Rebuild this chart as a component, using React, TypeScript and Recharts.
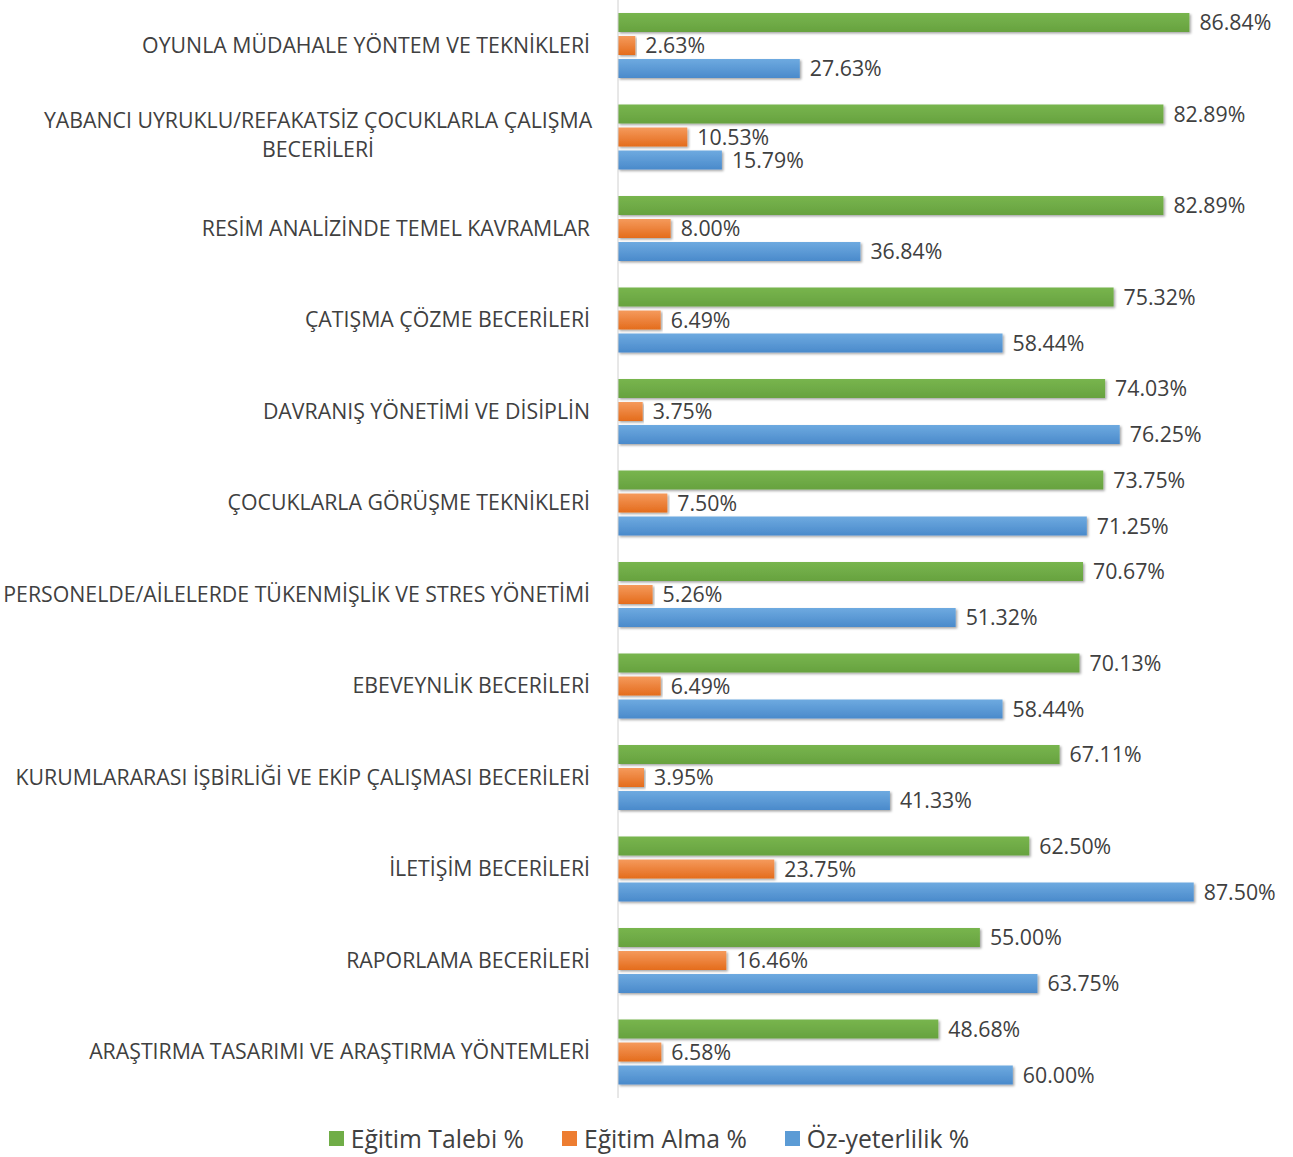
import React from "react";
import {BarChart, Bar, XAxis, YAxis, Legend, LabelList} from "recharts";

const categories = [
  "OYUNLA MÜDAHALE YÖNTEM VE TEKNİKLERİ",
  "YABANCI UYRUKLU/REFAKATSİZ ÇOCUKLARLA ÇALIŞMA|BECERİLERİ",
  "RESİM ANALİZİNDE TEMEL KAVRAMLAR",
  "ÇATIŞMA ÇÖZME BECERİLERİ",
  "DAVRANIŞ YÖNETİMİ VE DİSİPLİN",
  "ÇOCUKLARLA GÖRÜŞME TEKNİKLERİ",
  "PERSONELDE/AİLELERDE TÜKENMİŞLİK VE STRES YÖNETİMİ",
  "EBEVEYNLİK BECERİLERİ",
  "KURUMLARARASI İŞBİRLİĞİ VE EKİP ÇALIŞMASI BECERİLERİ",
  "İLETİŞİM BECERİLERİ",
  "RAPORLAMA BECERİLERİ",
  "ARAŞTIRMA TASARIMI VE ARAŞTIRMA YÖNTEMLERİ",
];

const egitimTalebi = [86.84, 82.89, 82.89, 75.32, 74.03, 73.75, 70.67, 70.13, 67.11, 62.5, 55.0, 48.68];
const egitimAlma = [2.63, 10.53, 8.0, 6.49, 3.75, 7.5, 5.26, 6.49, 3.95, 23.75, 16.46, 6.58];
const ozYeterlilik = [27.63, 15.79, 36.84, 58.44, 76.25, 71.25, 51.32, 58.44, 41.33, 87.5, 63.75, 60.0];

const seriesNames = ["Eğitim Talebi %", "Eğitim Alma %", "Öz-yeterlilik %"];

const data = categories.map((name, i) => ({
  name,
  talep: egitimTalebi[i],
  alma: egitimAlma[i],
  oz: ozYeterlilik[i],
}));

const FONT = "'Open Sans', sans-serif";
const TEXT = "#404040";
const FS = 21.3;

const CategoryTick = (props: any) => {
  const {x, y, payload} = props;
  const lines = String(payload.value).split("|");
  if (lines.length === 1) {
    return (
      <text x={x} y={y} dy={7} textAnchor="end" fill={TEXT} fontSize={FS} fontFamily={FONT}>
        {lines[0]}
      </text>
    );
  }
  // two line label, lines centred under each other
  const cx = x - 272;
  return (
    <text x={cx} y={y} textAnchor="middle" fill={TEXT} fontSize={FS} fontFamily={FONT}>
      {lines.map((l, i) => (
        <tspan key={i} x={cx} dy={i === 0 ? -9 : 29}>
          {l}
        </tspan>
      ))}
    </text>
  );
};

const legendColors = ["#70ad47", "#ed7d31", "#5b9bd5"];

const LegendContent = () => (
  <div
    style={{
      display: "flex",
      justifyContent: "center",
      alignItems: "center",
      gap: 38,
      fontFamily: FONT,
      fontSize: 24.7,
      color: TEXT,
      paddingTop: 24,
      paddingLeft: 22,
    }}
  >
    {seriesNames.map((n, i) => (
      <span key={n} style={{display: "flex", alignItems: "center"}}>
        <span style={{width: 15, height: 15, background: legendColors[i], marginRight: 7, display: "inline-block"}} />
        {n}
      </span>
    ))}
  </div>
);

const fmt = (v: any) => `${Number(v).toFixed(2)}%`;

const App = () => {
  return (
    <div style={{position: "absolute", left: 0, top: 0, width: 1293, height: 1157, background: "#fff"}}>
      <BarChart
        width={1293}
        height={1157}
        data={data}
        layout="vertical"
        margin={{top: 0, right: 17, bottom: 0, left: 0}}
        barSize={19}
        barGap={4}
      >
        <defs>
          <linearGradient id="gGreen" x1="0" y1="0" x2="0" y2="1">
            <stop offset="0%" stopColor="#78b54e" />
            <stop offset="100%" stopColor="#67a23f" />
          </linearGradient>
          <linearGradient id="gOrange" x1="0" y1="0" x2="0" y2="1">
            <stop offset="0%" stopColor="#f59a5c" />
            <stop offset="100%" stopColor="#e46c1c" />
          </linearGradient>
          <linearGradient id="gBlue" x1="0" y1="0" x2="0" y2="1">
            <stop offset="0%" stopColor="#6eaae0" />
            <stop offset="100%" stopColor="#4a8acb" />
          </linearGradient>
          <filter id="shadow" x="-5%" y="-30%" width="110%" height="170%">
            <feDropShadow dx="1.5" dy="1.5" stdDeviation="1.2" floodColor="#000" floodOpacity="0.35" />
          </filter>
        </defs>
        <XAxis type="number" domain={[0, 100]} hide />
        <YAxis
          type="category"
          dataKey="name"
          width={618}
          axisLine={{stroke: "#d0d0d0"}}
          tickLine={false}
          tickMargin={22}
          tick={<CategoryTick />}
          interval={0}
        />
        <Legend verticalAlign="bottom" height={59} content={<LegendContent />} />
        <Bar dataKey="talep" name={seriesNames[0]} fill="url(#gGreen)" filter="url(#shadow)" isAnimationActive={false}>
          <LabelList dataKey="talep" position="right" offset={10} formatter={fmt} fill={TEXT} fontSize={FS} fontFamily={FONT} />
        </Bar>
        <Bar dataKey="alma" name={seriesNames[1]} fill="url(#gOrange)" filter="url(#shadow)" isAnimationActive={false}>
          <LabelList dataKey="alma" position="right" offset={10} formatter={fmt} fill={TEXT} fontSize={FS} fontFamily={FONT} />
        </Bar>
        <Bar dataKey="oz" name={seriesNames[2]} fill="url(#gBlue)" filter="url(#shadow)" isAnimationActive={false}>
          <LabelList dataKey="oz" position="right" offset={10} formatter={fmt} fill={TEXT} fontSize={FS} fontFamily={FONT} />
        </Bar>
      </BarChart>
    </div>
  );
};

export default App;
